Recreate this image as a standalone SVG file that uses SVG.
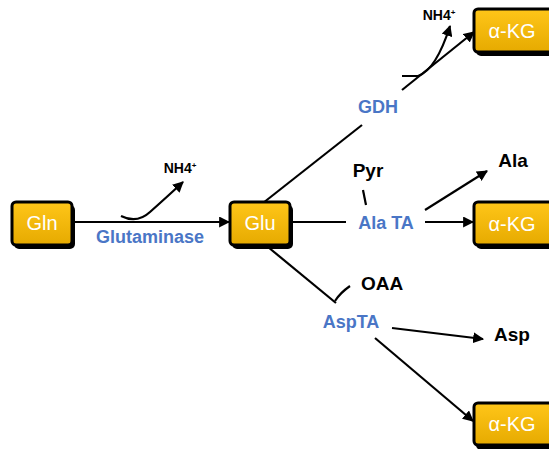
<svg xmlns="http://www.w3.org/2000/svg" width="549" height="449" viewBox="0 0 549 449">
<style>
.box{fill:url(#gold);stroke:#000;stroke-width:3}
.shadow{fill:#000}
.bt{font-family:"Liberation Sans",Arial,sans-serif;font-size:20px;fill:#fff;text-anchor:middle}
.enz{font-family:"Liberation Sans",Arial,sans-serif;font-size:18px;font-weight:bold;fill:#4a76c6;text-anchor:middle}
.met{font-family:"Liberation Sans",Arial,sans-serif;font-size:19px;font-weight:bold;fill:#000;text-anchor:middle}
.nh{font-family:"Liberation Sans",Arial,sans-serif;font-size:14px;font-weight:bold;fill:#000;text-anchor:middle}
.ln{fill:none;stroke:#000;stroke-width:2.2}
</style>
<defs>
<linearGradient id="gold" x1="0" y1="0" x2="0" y2="1">
<stop offset="0" stop-color="#ffc619"/>
<stop offset="1" stop-color="#e6aa00"/>
</linearGradient>
<marker id="ah" viewBox="0 0 10 10" refX="9" refY="5" markerWidth="5" markerHeight="5" orient="auto" markerUnits="strokeWidth">
<path d="M0,0 L10,5 L0,10 z" fill="#000"/>
</marker>
</defs>
<g id="connectors">
<line class="ln" x1="72" y1="222" x2="229" y2="222" marker-end="url(#ah)"/>
<path class="ln" d="M121,216 Q137,224 150,212 Q168,196 183,182" marker-end="url(#ah)"/>
<line class="ln" x1="263" y1="203" x2="362" y2="125"/>
<line class="ln" x1="402" y1="90" x2="474" y2="32" marker-end="url(#ah)"/>
<path class="ln" d="M402,76 L418,76 Q436,70 450,26" marker-end="url(#ah)"/>
<line class="ln" x1="290" y1="222" x2="346" y2="222"/>
<line class="ln" x1="425" y1="222" x2="473" y2="222" marker-end="url(#ah)"/>
<line class="ln" x1="363" y1="190" x2="366" y2="205"/>
<line class="ln" x1="425" y1="210" x2="487" y2="171" marker-end="url(#ah)"/>
<line class="ln" x1="268" y1="247" x2="336" y2="303"/>
<path class="ln" d="M350,286 Q340,293 335,301"/>
<line class="ln" x1="392" y1="328" x2="483" y2="339" marker-end="url(#ah)"/>
<line class="ln" x1="375" y1="338" x2="473" y2="421" marker-end="url(#ah)"/>
</g>
<g id="gln">
<rect class="shadow" x="14" y="205" width="61" height="44" rx="5"/>
<rect class="box" x="12" y="202" width="60" height="43" rx="4"/>
<text class="bt" x="42" y="230">Gln</text>
</g>
<g id="glu">
<rect class="shadow" x="232" y="205" width="61" height="44" rx="5"/>
<rect class="box" x="230" y="202" width="60" height="43" rx="4"/>
<text class="bt" x="260" y="230">Glu</text>
</g>
<g id="akg1">
<rect class="shadow" x="476" y="12" width="80" height="44" rx="5"/>
<rect class="box" x="474" y="9" width="80" height="43" rx="4"/>
<text class="bt" x="512" y="38">α-KG</text>
</g>
<g id="akg2">
<rect class="shadow" x="476" y="205" width="80" height="44" rx="5"/>
<rect class="box" x="474" y="202" width="80" height="43" rx="4"/>
<text class="bt" x="512" y="231">α-KG</text>
</g>
<g id="akg3">
<rect class="shadow" x="476" y="406" width="80" height="44" rx="5"/>
<rect class="box" x="474" y="403" width="80" height="42" rx="4"/>
<text class="bt" x="512" y="431">α-KG</text>
</g>
<g id="glutaminase"><text class="enz" x="150" y="243">Glutaminase</text></g>
<g id="gdh"><text class="enz" x="378" y="113">GDH</text></g>
<g id="alata"><text class="enz" x="386" y="229">Ala TA</text></g>
<g id="aspta"><text class="enz" x="351" y="328">AspTA</text></g>
<g id="nh4a"><text class="nh" x="180" y="173">NH4<tspan font-size="8" dy="-5">+</tspan></text></g>
<g id="nh4b"><text class="nh" x="439" y="20">NH4<tspan font-size="8" dy="-5">+</tspan></text></g>
<g id="pyr"><text class="met" x="368" y="177">Pyr</text></g>
<g id="ala"><text class="met" x="513" y="167">Ala</text></g>
<g id="oaa"><text class="met" x="382" y="290">OAA</text></g>
<g id="asp"><text class="met" x="512" y="341">Asp</text></g>
</svg>
